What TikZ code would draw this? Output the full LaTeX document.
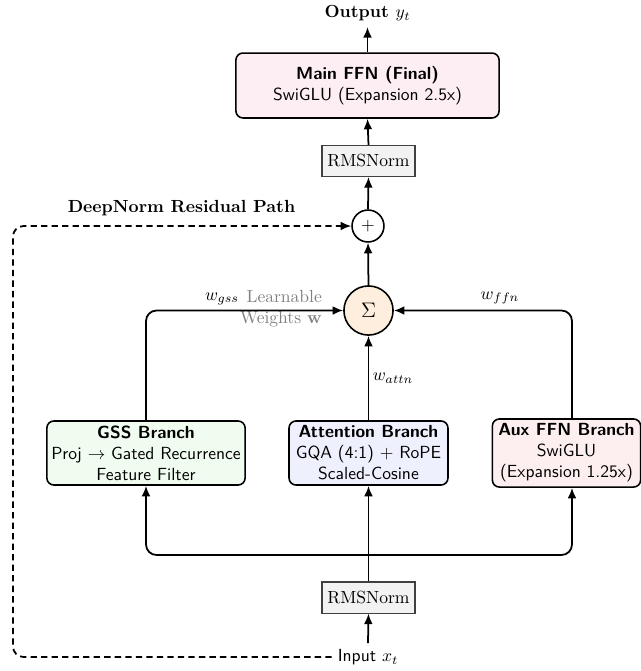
\documentclass[tikz,border=0pt]{standalone}
\usepackage{amsmath}
\usetikzlibrary{arrows.meta,calc}
\definecolor{ffnfill}{HTML}{FCEEF3}
\definecolor{gssfill}{HTML}{F0FCF0}
\definecolor{attfill}{HTML}{EFF0FD}
\definecolor{auxfill}{HTML}{FDEFEF}
\definecolor{sigfill}{HTML}{FDEEDD}
\begin{document}
\begin{tikzpicture}[x=0.57pt,y=-0.57pt,
  arr/.style={-{Latex[length=6pt,width=5pt]}, line width=1pt},
  branch/.style={draw, line width=0.9pt, rounded corners=4pt, align=center, font=\sffamily, inner sep=2pt},
  normbox/.style={draw=black!75, fill=gray!10, line width=0.6pt, minimum width=53pt, minimum height=17.7pt, inner sep=2pt},
  dashpath/.style={dash pattern=on 3.6pt off 2.4pt}]
\useasboundingbox (0,0) rectangle (641,671);
% nodes
\node[font=\bfseries] (out) at (367.5,13) {Output $y_t$};
\node[branch, fill=ffnfill, minimum width=150pt, minimum height=37pt] (ffn) at (367.5,85.5)
  {\textbf{Main FFN (Final)}\\SwiGLU (Expansion 2.5x)};
\node[normbox] (rmsA) at (368.5,161) {RMSNorm};
\node[circle, draw, line width=0.9pt, minimum size=18.2pt, inner sep=0pt] (plus) at (368,226) {$+$};
\node[circle, draw, line width=0.9pt, fill=sigfill, minimum size=28pt, inner sep=0pt] (sig) at (368.5,310.5) {\large$\Sigma$};
\node[branch, fill=gssfill, minimum width=113pt, minimum height=36.5pt] (gss) at (146,453)
  {\textbf{GSS Branch}\\Proj $\rightarrow$ Gated Recurrence\\Feature Filter};
\node[branch, fill=attfill, minimum width=90.6pt, minimum height=36.5pt] (att) at (368.5,453)
  {\textbf{Attention Branch}\\GQA (4:1) + RoPE\\Scaled-Cosine};
\node[branch, fill=auxfill, minimum width=84.5pt, minimum height=38.8pt] (aux) at (566.5,453)
  {\textbf{Aux FFN Branch}\\SwiGLU\\(Expansion 1.25x)};
\node[normbox] (rmsB) at (368.5,597.5) {RMSNorm};
\node[font=\sffamily] (in) at (368,657) {Input $x_t$};
% labels
\node (wg) at (222,299) {$w_{gss}$};
\node[gray, align=right, anchor=east, inner sep=1pt] (lw) at (324,309) {Learnable\\Weights $\mathbf{w}$};
\node (wf) at (500,298) {$w_{ffn}$};
\node[font=\bfseries] (dn) at (181.5,208) {DeepNorm Residual Path};
% helper coordinates
\coordinate (bus) at (368.5,555);
\coordinate (auxtop) at ($(aux.north)+(5.5,0)$);
\coordinate (auxbot) at ($(aux.south)+(5.5,0)$);
\coordinate (dl) at (13,657);
\coordinate (ul) at (13,226);
% connectors
\draw[arr] (ffn.north) -- (out.south);
\draw[arr] (rmsA.north) -- (ffn.south);
\draw[arr] (plus.north) -- (rmsA.south);
\draw[arr] (sig.north) -- (plus.south);
\draw[arr, rounded corners=6pt] (gss.north) |- (sig.west);
\draw[arr, rounded corners=6pt] (auxtop) |- (sig.east);
\draw[arr] (att.north) -- (sig.south) node[midway, right, inner sep=2pt] {$w_{attn}$};
\draw[arr] (rmsB.north) -- (att.south);
\draw[arr, rounded corners=6pt] (bus) -| (gss.south);
\draw[arr, rounded corners=6pt] (bus) -| (auxbot);
\draw[arr] (in.north) -- (rmsB.south);
\draw[arr, dashpath, rounded corners=6pt] (in.west) -- (dl) -- (ul) -- (plus.west);
\end{tikzpicture}
\end{document}
